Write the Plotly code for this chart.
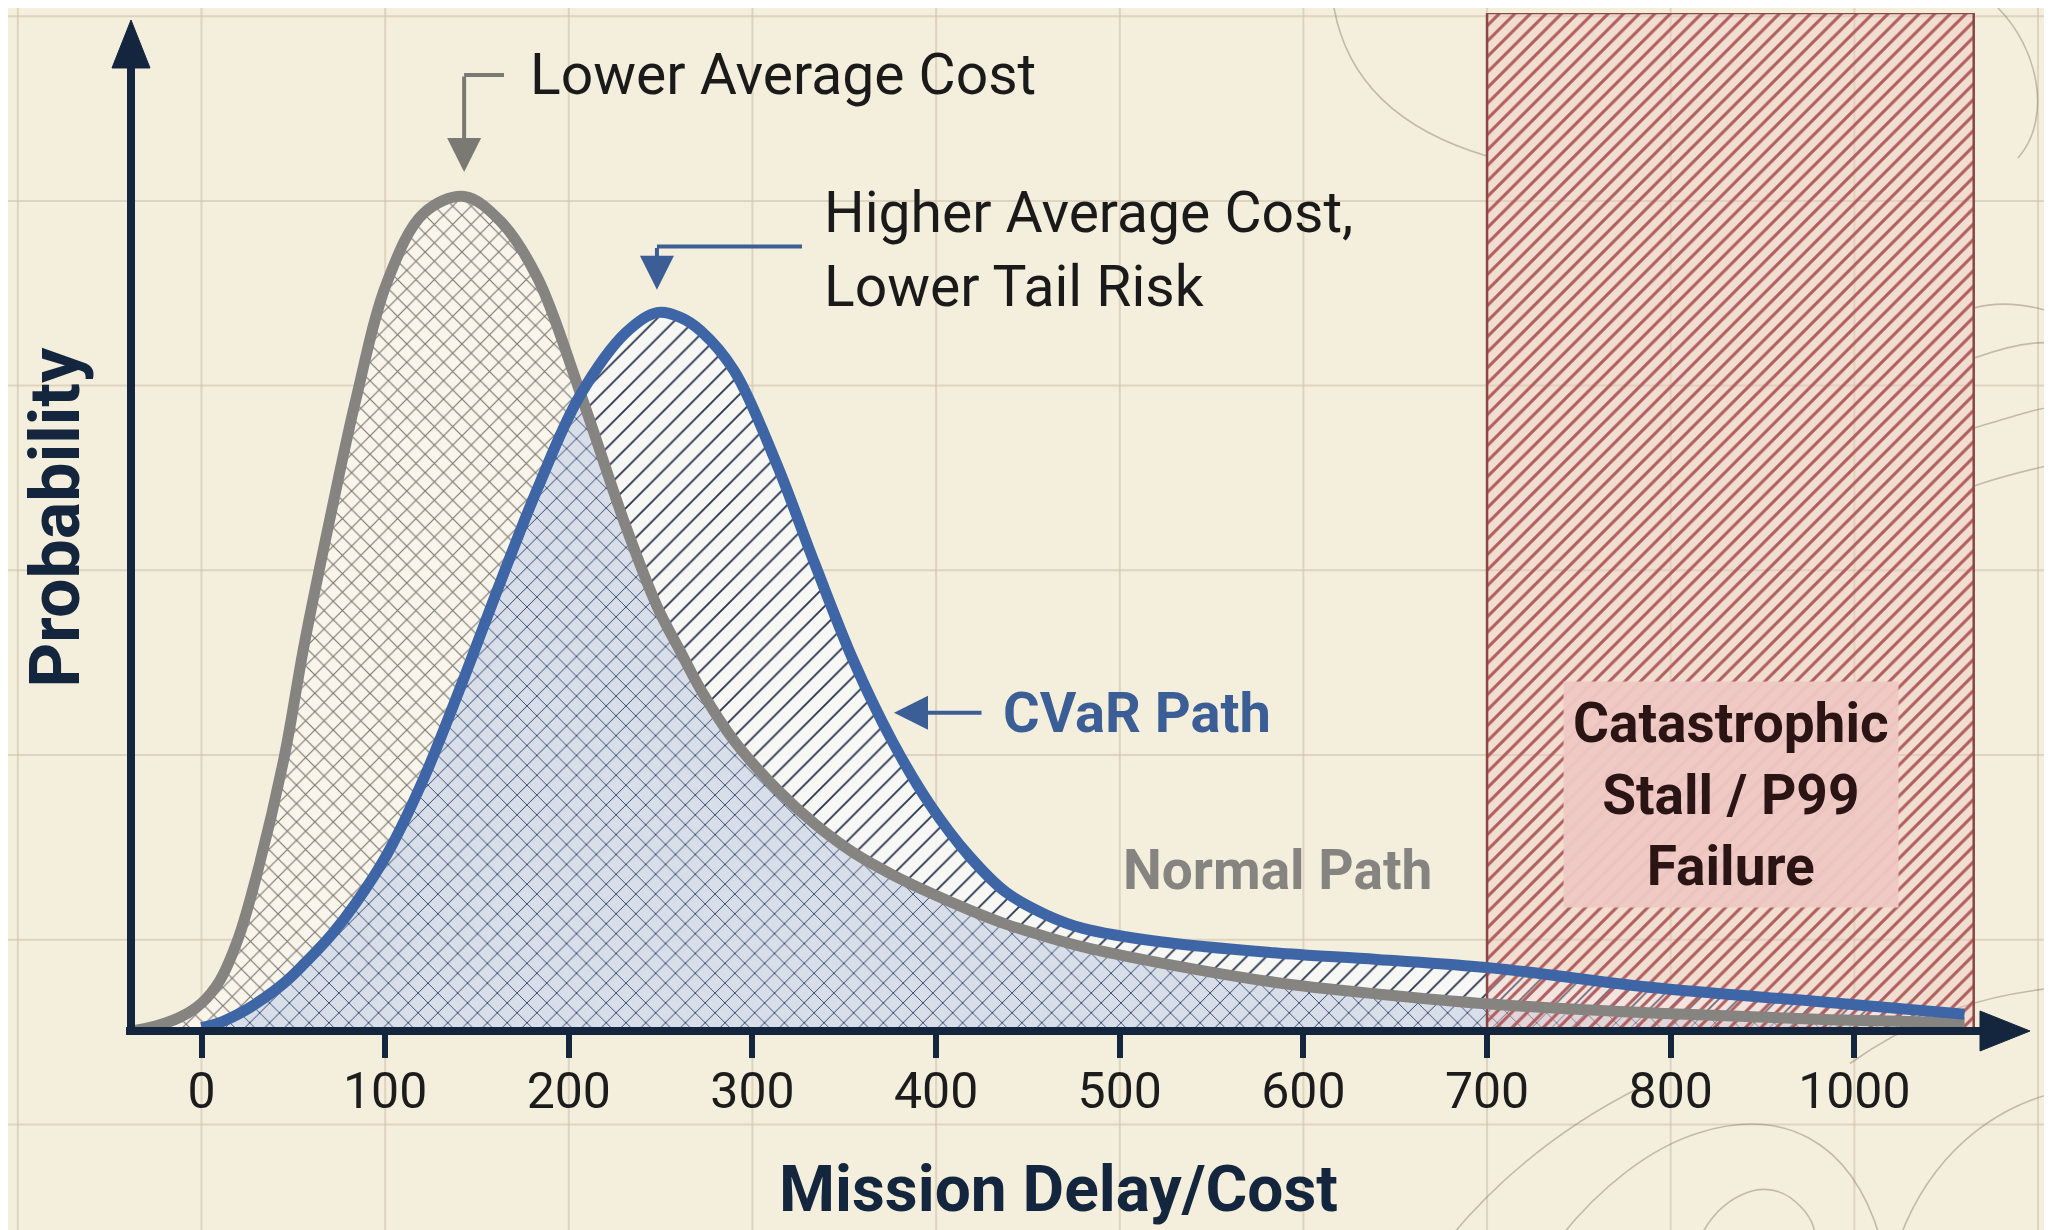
import numpy as np
import plotly.graph_objects as go

# ---------------- data ----------------
x_cost = [-38, -25, -12, 0, 10, 20, 30, 45, 56, 71, 84, 101, 121, 143, 163, 183, 206, 231,
          248, 261, 272, 290, 313, 334, 355, 376, 397, 418, 438, 460, 480, 522, 584, 640,
          702, 793, 880, 960]
normal_path = [0.000, 0.006, 0.016, 0.033, 0.060, 0.110, 0.185, 0.325, 0.460, 0.620, 0.750,
               0.890, 0.972, 0.992, 0.962, 0.895, 0.760, 0.600, 0.505, 0.450, 0.405, 0.345,
               0.288, 0.246, 0.212, 0.186, 0.164, 0.144, 0.127, 0.112, 0.100, 0.081, 0.058,
               0.044, 0.032, 0.021, 0.014, 0.010]
cvar_path = [None, None, None, 0.004, 0.010, 0.020, 0.033, 0.057, 0.080, 0.115, 0.152,
             0.210, 0.300, 0.420, 0.535, 0.645, 0.755, 0.830, 0.854, 0.848, 0.832, 0.785,
             0.675, 0.555, 0.440, 0.345, 0.268, 0.208, 0.165, 0.138, 0.122, 0.106, 0.093,
             0.085, 0.075, 0.051, 0.035, 0.020]
tick_vals = [0, 100, 200, 300, 400, 500, 600, 700, 800, 900]
tick_labels = ["0", "100", "200", "300", "400", "500", "600", "700", "800", "1000"]
zone_start, zone_end = 700, 965          # catastrophic stall / P99 zone

# ---------------- geometry / style ----------------
W, H = 2052, 1230
PX_L, PX_R, PX_T, PX_B = 123, 2020, 5, 1023.5
X0_PX, PX_PER_UNIT_X = 193.5, 1.8365
PX_PER_UNIT_Y = 841.7
x_range = [(PX_L - X0_PX) / PX_PER_UNIT_X, (PX_R - X0_PX) / PX_PER_UNIT_X]
y_top = (PX_B - PX_T) / PX_PER_UNIT_Y
y_range = [0, y_top]

BG = "#F4EEDC"
GRID = "rgba(205,192,168,0.55)"
NAVY = "#13263D"
GRAY = "#858480"
BLUE = "#3E66A6"
BLUE_TXT = "#3B5E96"
FONT = "Roboto"


def pxx(px):
    return (px - PX_L) / (PX_R - PX_L)


def pxy(py):
    return (PX_B - py) / (PX_B - PX_T)


def dx(px):
    return (px - X0_PX) / PX_PER_UNIT_X


def dy(py):
    return (PX_B - py) / PX_PER_UNIT_Y


def path_px(cmds):
    out = []
    for c in cmds:
        if isinstance(c, str):
            out.append(c)
        else:
            out.append(f"{pxx(c[0]):.5f},{pxy(c[1]):.5f}")
    return " ".join(out)


x_arr = np.array(x_cost, dtype=float)
n_arr = np.array(normal_path, dtype=float)
c_arr = np.array([np.nan if v is None else v for v in cvar_path], dtype=float)
overlap = np.minimum(n_arr, c_arr)

fig = go.Figure()

# Normal path area (gray crosshatch)
fig.add_trace(go.Scatter(
    x=x_arr, y=n_arr, mode="none", fill="tozeroy",
    line=dict(shape="spline", smoothing=1.0),
    fillpattern=dict(shape="x", fgcolor="rgb(120,118,112)", bgcolor="rgba(250,247,238,0.85)",
                     size=13, solidity=0.17, fillmode="replace"),
    hoverinfo="skip", showlegend=False))

# CVaR path area (diagonal hatch)
fig.add_trace(go.Scatter(
    x=x_arr, y=c_arr, mode="none", fill="tozeroy",
    line=dict(shape="spline", smoothing=1.0),
    fillpattern=dict(shape="/", fgcolor="rgb(40,52,80)", bgcolor="rgba(248,248,246,0.92)",
                     size=14, solidity=0.13, fillmode="replace"),
    hoverinfo="skip", showlegend=False))

# Overlap (blue crosshatch)
fig.add_trace(go.Scatter(
    x=x_arr, y=overlap, mode="none", fill="tozeroy",
    line=dict(shape="spline", smoothing=1.0),
    fillpattern=dict(shape="x", fgcolor="rgb(58,74,110)", bgcolor="rgba(214,221,233,0.95)",
                     size=14, solidity=0.13, fillmode="replace"),
    hoverinfo="skip", showlegend=False))

# Catastrophic zone
fig.add_trace(go.Scatter(
    x=[zone_start, zone_end, zone_end, zone_start, zone_start],
    y=[0, 0, y_top, y_top, 0], mode="lines", fill="toself",
    line=dict(color="rgb(140,70,70)", width=2.5),
    fillpattern=dict(shape="/", fgcolor="rgb(176,94,94)", bgcolor="rgba(240,198,192,0.38)",
                     size=11, solidity=0.28, fillmode="replace"),
    hoverinfo="skip", showlegend=False))

# Curves
fig.add_trace(go.Scatter(x=x_arr, y=n_arr, mode="lines",
                         line=dict(color=GRAY, width=11, shape="spline", smoothing=1.0),
                         hoverinfo="skip", showlegend=False))
fig.add_trace(go.Scatter(x=x_arr, y=c_arr, mode="lines",
                         line=dict(color=BLUE, width=11, shape="spline", smoothing=1.0),
                         hoverinfo="skip", showlegend=False))

shapes = []
# background paper grid
for k in range(-1, 11):
    gx = X0_PX + 183.65 * k
    shapes.append(dict(type="line", xref="paper", yref="paper", layer="below",
                       x0=pxx(gx), x1=pxx(gx), y0=pxy(H + 5), y1=pxy(-5),
                       line=dict(color=GRID, width=2)))
for k in range(7):
    gy = 1117 - 184.8 * k
    shapes.append(dict(type="line", xref="paper", yref="paper", layer="below",
                       x0=pxx(-5), x1=pxx(W + 5), y0=pxy(gy), y1=pxy(gy),
                       line=dict(color=GRID, width=2)))
# faint topographic lines
topo = [
    ["M", (1326, 0), "C", (1337, 60), (1377, 118), (1479, 148)],
    ["M", (1967, 300), "C", (1995, 292), (2030, 298), (2052, 308)],
    ["M", (1967, 350), "C", (2000, 338), (2030, 332), (2052, 336)],
    ["M", (1967, 420), "C", (2000, 410), (2030, 400), (2052, 398)],
    ["M", (1967, 478), "C", (1995, 468), (2030, 460), (2052, 455)],
    ["M", (1990, 0), "C", (2030, 40), (2045, 110), (2010, 150)],
    ["M", (1442, 1230), "C", (1492, 1170), (1552, 1120), (1632, 1080)],
    ["M", (1552, 1230), "C", (1592, 1180), (1642, 1140), (1692, 1125), "C", (1772, 1100), (1842, 1130), (1872, 1230)],
    ["M", (1692, 1230), "C", (1712, 1190), (1752, 1170), (1782, 1190), "C", (1802, 1205), (1807, 1220), (1807, 1230)],
    ["M", (1842, 1056), "C", (1912, 1006), (1982, 986), (2052, 980)],
    ["M", (1892, 1230), "C", (1922, 1150), (1982, 1100), (2052, 1084)],
]
for t in topo:
    shapes.append(dict(type="path", xref="paper", yref="paper", layer="below",
                       path=path_px(t), line=dict(color="rgba(120,110,95,0.4)", width=1.6)))

# axes with arrowheads
shapes.append(dict(type="line", xref="paper", yref="paper", layer="above",
                   x0=pxx(118), x1=pxx(1978), y0=pxy(PX_B), y1=pxy(PX_B),
                   line=dict(color=NAVY, width=8)))
shapes.append(dict(type="path", xref="paper", yref="paper", layer="above",
                   path=path_px(["M", (1972, 1003.5), "L", (2022, 1023.5), "L", (1972, 1043.5), "Z"]),
                   fillcolor=NAVY, line=dict(color=NAVY, width=1)))
shapes.append(dict(type="line", xref="paper", yref="paper", layer="above",
                   x0=pxx(PX_L), x1=pxx(PX_L), y0=pxy(1027.5), y1=pxy(56),
                   line=dict(color=NAVY, width=8)))
shapes.append(dict(type="path", xref="paper", yref="paper", layer="above",
                   path=path_px(["M", (PX_L - 19, 60), "L", (PX_L, 12), "L", (PX_L + 19, 60), "Z"]),
                   fillcolor=NAVY, line=dict(color=NAVY, width=1)))

# callout connectors
n_peak_x = x_arr[int(np.nanargmax(n_arr))]
c_peak_x = x_arr[int(np.nanargmax(c_arr))]
y_low_line = dy(67)
y_high_line = dy(238.5)
shapes.append(dict(type="line", xref="x", yref="y", layer="above",
                   x0=n_peak_x, x1=dx(496), y0=y_low_line, y1=y_low_line,
                   line=dict(color="#7A7974", width=4)))
shapes.append(dict(type="line", xref="x", yref="y", layer="above",
                   x0=c_peak_x, x1=dx(794), y0=y_high_line, y1=y_high_line,
                   line=dict(color=BLUE_TXT, width=4)))

annotations = [
    # arrows
    dict(x=n_peak_x, y=dy(164), ax=n_peak_x, ay=y_low_line, xref="x", yref="y", axref="x", ayref="y",
         text="", showarrow=True, arrowhead=2, arrowsize=1.7, arrowwidth=4, arrowcolor="#7A7974"),
    dict(x=c_peak_x, y=dy(282), ax=c_peak_x, ay=y_high_line, xref="x", yref="y", axref="x", ayref="y",
         text="", showarrow=True, arrowhead=2, arrowsize=1.7, arrowwidth=4, arrowcolor=BLUE_TXT),
    dict(x=dx(886), y=dy(705), ax=dx(975), ay=dy(705), xref="x", yref="y", axref="x", ayref="y",
         text="", showarrow=True, arrowhead=2, arrowsize=1.7, arrowwidth=4, arrowcolor=BLUE_TXT),
    # texts
    dict(x=dx(520), y=dy(67), xref="x", yref="y", xanchor="left", yanchor="middle",
         text="Lower Average Cost", showarrow=False,
         font=dict(family=FONT, size=57, color="#1A1A1A")),
    dict(x=dx(814), y=dy(242), xref="x", yref="y", xanchor="left", yanchor="middle", align="left",
         text="Higher Average Cost,<br>Lower Tail Risk", showarrow=False,
         font=dict(family=FONT, size=57, color="#1A1A1A")),
    dict(x=dx(993), y=dy(705), xref="x", yref="y", xanchor="left", yanchor="middle",
         text="<b>CVaR Path</b>", showarrow=False,
         font=dict(family=FONT, size=56, color=BLUE_TXT)),
    dict(x=dx(1113), y=dy(862), xref="x", yref="y", xanchor="left", yanchor="middle",
         text="<b>Normal Path</b>", showarrow=False,
         font=dict(family=FONT, size=55, color=GRAY)),
    dict(x=dx(1723), y=dy(787), xref="x", yref="y", xanchor="center", yanchor="middle",
         text="<b>Catastrophic<br>Stall / P99<br>Failure</b>", showarrow=False,
         bgcolor="rgba(238,200,196,0.95)", borderpad=9,
         font=dict(family=FONT, size=55, color="#2B1414")),
    # axis titles
    dict(x=pxx(1050), y=pxy(1182), xref="paper", yref="paper", xanchor="center", yanchor="middle",
         text="<b>Mission Delay/Cost</b>", showarrow=False,
         font=dict(family=FONT, size=64, color=NAVY)),
    dict(x=pxx(47), y=pxy(510), xref="paper", yref="paper", xanchor="center", yanchor="middle",
         text="<b>Probability</b>", textangle=-90, showarrow=False,
         font=dict(family=FONT, size=70, color=NAVY)),
]

fig.update_layout(
    width=W, height=H, autosize=False,
    margin=dict(l=PX_L, r=W - PX_R, t=PX_T, b=H - PX_B, pad=0),
    paper_bgcolor=BG, plot_bgcolor="rgba(0,0,0,0)",
    showlegend=False,
    shapes=shapes, annotations=annotations,
    xaxis=dict(range=x_range, showgrid=False, zeroline=False, showline=False,
               tickmode="array", tickvals=tick_vals, ticktext=tick_labels,
               ticks="outside", ticklen=26, tickwidth=6, tickcolor=NAVY,
               ticklabelstandoff=-10,
               tickfont=dict(family=FONT, size=50, color="#1C1C1C")),
    yaxis=dict(range=y_range, showgrid=False, zeroline=False, showline=False,
               showticklabels=False, ticks=""),
)

fig.write_html("out.html")
